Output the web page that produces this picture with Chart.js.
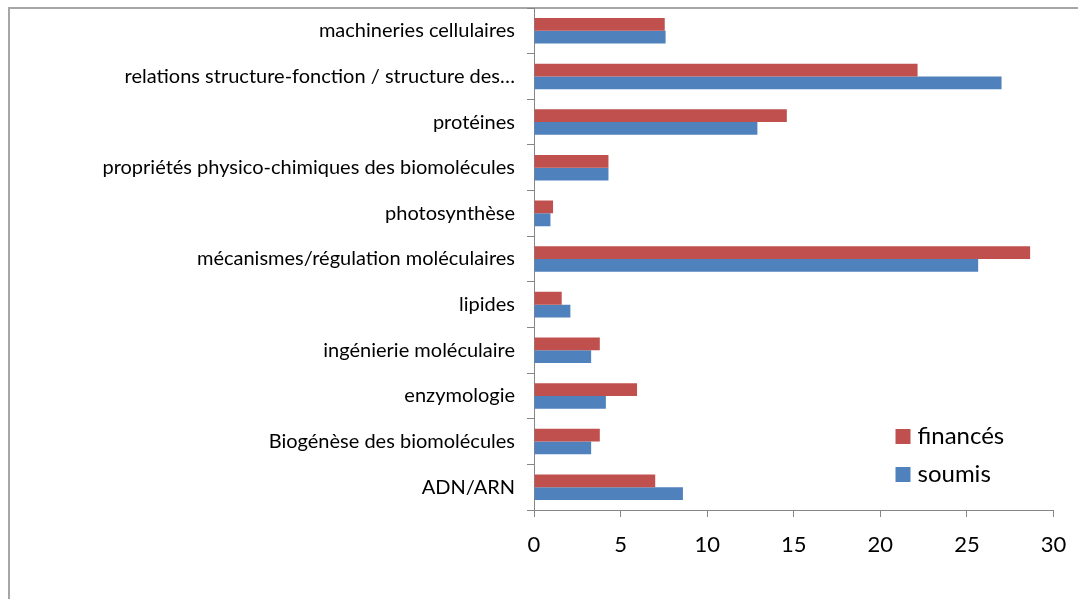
<!DOCTYPE html>
<html>
<head>
<meta charset="utf-8">
<script src="https://cdn.jsdelivr.net/npm/chart.js@4"></script>
<style>
  html, body { margin: 0; padding: 0; background: #fff; }
  #wrap { position: relative; width: 1078px; height: 599px; }
  #frame { position: absolute; left: 8px; top: 7px; right: 0; bottom: 0;
           border-top: 2px solid #a6a6a6; border-left: 2px solid #a6a6a6; }
  canvas { position: absolute; left: 0; top: 0; }
</style>
</head>
<body>
<div id="wrap">
  <div id="frame"></div>
  <canvas id="chart" width="1078" height="599"></canvas>
</div>
<script>
const categories = [
    "machineries cellulaires",
    "relations structure-fonction / structure des…",
    "protéines",
    "propriétés physico-chimiques des biomolécules",
    "photosynthèse",
    "mécanismes/régulation moléculaires",
    "lipides",
    "ingénierie moléculaire",
    "enzymologie",
    "Biogénèse des biomolécules",
    "ADN/ARN"
];
const finances = [7.55, 22.15, 14.6, 4.3, 1.1, 28.65, 1.6, 3.8, 5.95, 3.8, 7.0];
const soumis = [7.6, 27.0, 12.9, 4.3, 0.95, 25.65, 2.1, 3.3, 4.15, 3.3, 8.6];
const xTicks = [0, 5, 10, 15, 20, 25, 30];

const FONT = "Lato, 'Open Sans', sans-serif";

// légende dessinée dans la zone du graphique, en bas à droite
const insideLegend = {
    id: "insideLegend",
    afterDraw(chart) {
        const ctx = chart.ctx;
        const area = chart.chartArea;
        ctx.save();
        ctx.font = "24px " + FONT;
        ctx.textBaseline = "middle";
        chart.data.datasets.forEach((ds, i) => {
            const x = area.right - 158;
            const y = 436 + i * 38;
            ctx.fillStyle = ds.backgroundColor;
            ctx.fillRect(x, y - 7, 15, 15);
            ctx.fillStyle = "#000";
            ctx.fillText(ds.label, x + 22, y);
        });
        ctx.restore();
    }
};

new Chart(document.getElementById("chart"), {
    type: "bar",
    data: {
        labels: categories,
        datasets: [
            {
                label: "financés",
                data: finances,
                backgroundColor: "#C0504D",
                categoryPercentage: 0.56,
                barPercentage: 1.0,
            },
            {
                label: "soumis",
                data: soumis,
                backgroundColor: "#4F81BD",
                categoryPercentage: 0.56,
                barPercentage: 1.0,
            },
        ],
    },
    options: {
        indexAxis: "y",
        responsive: false,
        animation: false,
        layout: { padding: { top: 8, right: 24.5, left: 0, bottom: 0 } },
        plugins: {
            legend: { display: false },
            tooltip: { enabled: false },
        },
        scales: {
            x: {
                min: 0,
                max: 30,
                afterBuildTicks: (s) => { s.ticks = xTicks.map(v => ({ value: v })); },
                afterFit: (s) => { s.height = 89; s.paddingLeft = 0; s.paddingRight = 0; },
                border: { display: true, color: "#868686", width: 1 },
                grid: { drawOnChartArea: false, drawTicks: true, tickLength: 7, color: "#868686" },
                ticks: { color: "#000", font: { family: FONT, size: 22 }, padding: 15, maxRotation: 0 },
            },
            y: {
                afterFit: (s) => { s.width = 534; s.paddingTop = 0; s.paddingBottom = 0; },
                border: { display: true, color: "#868686", width: 1 },
                grid: { drawOnChartArea: false, drawTicks: true, tickLength: 7, color: "#868686", offset: true },
                ticks: { color: "#000", font: { family: FONT, size: 20 }, padding: 12, autoSkip: false },
            },
        },
    },
    plugins: [insideLegend],
});
</script>
</body>
</html>
